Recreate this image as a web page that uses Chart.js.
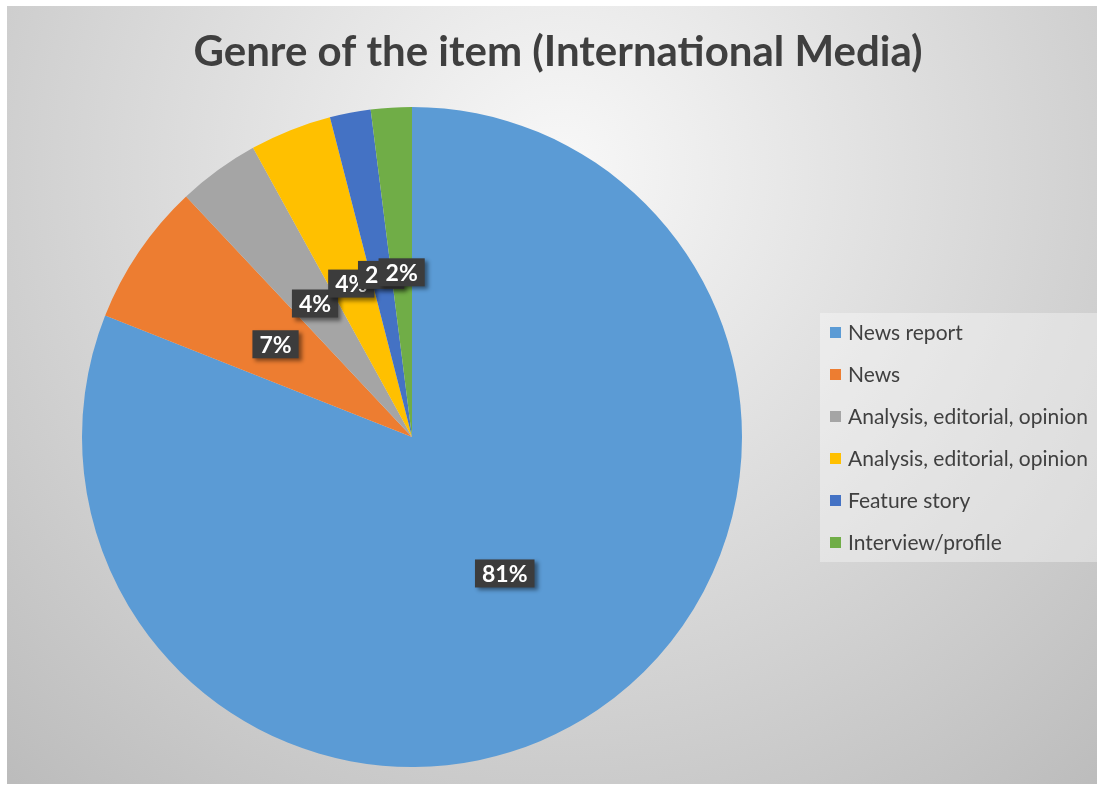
<!DOCTYPE html>
<html>
<head>
<meta charset="utf-8">
<script src="https://cdn.jsdelivr.net/npm/chart.js@4/dist/chart.umd.min.js"></script>
<style>
  html, body { margin: 0; padding: 0; background: #ffffff; }
  #wrap { width: 1099px; height: 789px; position: relative; }
</style>
</head>
<body>
<div id="wrap"><canvas id="c" width="1099" height="789"></canvas></div>
<script>
// Genre breakdown of items in international media (percent)
const chartTitle = 'Genre of the item (International Media)';
const genres = [
  'News report',
  'News',
  'Analysis, editorial, opinion',
  'Analysis, editorial, opinion',
  'Feature story',
  'Interview/profile'
];
const shares = [81, 7, 4, 4, 2, 2];
const sliceColors = ['#5B9BD5', '#ED7D31', '#A5A5A5', '#FFC000', '#4472C4', '#70AD47'];

// Grey radial backdrop behind the whole chart
const backdrop = {
  id: 'backdrop',
  beforeDraw(chart) {
    const ctx = chart.ctx;
    ctx.save();
    ctx.fillStyle = '#ffffff';
    ctx.fillRect(0, 0, chart.width, chart.height);
    const g = ctx.createRadialGradient(560, 170, 0, 560, 170, 820);
    g.addColorStop(0, '#f8f8f8');
    g.addColorStop(1, '#bcbcbc');
    ctx.fillStyle = g;
    ctx.fillRect(7, 6, 1090, 778);
    ctx.restore();
  }
};

// Title and right-hand legend
const titleAndLegend = {
  id: 'titleAndLegend',
  afterDraw(chart) {
    const ctx = chart.ctx;
    ctx.save();
    ctx.fillStyle = '#3f3f3f';
    ctx.font = 'bold 42px Lato, "Open Sans", sans-serif';
    ctx.textAlign = 'center';
    ctx.textBaseline = 'middle';
    ctx.fillText(chartTitle, 558, 52);

    // legend panel
    ctx.fillStyle = 'rgba(255,255,255,0.35)';
    ctx.fillRect(820, 313, 277, 249);
    ctx.font = '21px Lato, "Open Sans", sans-serif';
    ctx.textAlign = 'left';
    genres.forEach((name, i) => {
      const y = 332 + i * 42;
      ctx.fillStyle = sliceColors[i];
      ctx.fillRect(830, y - 5, 11, 11);
      ctx.fillStyle = '#404040';
      ctx.fillText(name, 848, y + 1);
    });
    ctx.restore();
  }
};

// Dark percentage tags at the middle of each slice
const valueTags = {
  id: 'valueTags',
  afterDatasetsDraw(chart) {
    const ctx = chart.ctx;
    const meta = chart.getDatasetMeta(0);
    ctx.save();
    ctx.font = 'bold 23px Lato, "Open Sans", sans-serif';
    ctx.textAlign = 'center';
    ctx.textBaseline = 'middle';
    meta.data.forEach((arc, i) => {
      const p = arc.tooltipPosition();
      const txt = shares[i] + '%';
      const w = ctx.measureText(txt).width + 14;
      const h = 28;
      ctx.save();
      ctx.shadowColor = 'rgba(0,0,0,0.45)';
      ctx.shadowBlur = 4;
      ctx.shadowOffsetX = 3;
      ctx.shadowOffsetY = 3;
      ctx.fillStyle = '#3c3c3c';
      ctx.fillRect(p.x - w / 2, p.y - h / 2, w, h);
      ctx.restore();
      ctx.fillStyle = '#ffffff';
      ctx.fillText(txt, p.x, p.y + 1);
    });
    ctx.restore();
  }
};

new Chart(document.getElementById('c'), {
  type: 'pie',
  data: {
    labels: genres,
    datasets: [{
      data: shares,
      backgroundColor: sliceColors,
      borderWidth: 0
    }]
  },
  options: {
    responsive: false,
    animation: false,
    layout: { padding: { left: 82, right: 357, top: 107, bottom: 22 } },
    plugins: {
      legend: { display: false },
      title: { display: false },
      tooltip: { enabled: false }
    }
  },
  plugins: [backdrop, valueTags, titleAndLegend]
});
</script>
</body>
</html>
